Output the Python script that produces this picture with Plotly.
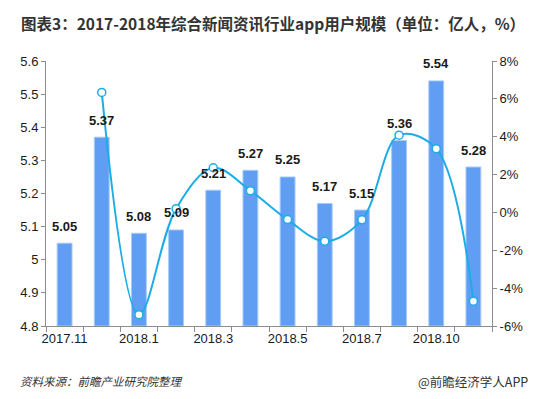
import plotly.graph_objects as go

# ---- data ----
users = [5.05, 5.37, 5.08, 5.09, 5.21, 5.27, 5.25, 5.17, 5.15, 5.36, 5.54, 5.28]   # 亿人
growth = [None, 6.34, -5.40, 0.20, 2.36, 1.15, -0.38, -1.52, -0.39, 4.08, 3.36, -4.69]  # %
tick_positions = [0, 2, 4, 6, 8, 10]
tick_labels = ["2017.11", "2018.1", "2018.3", "2018.5", "2018.7", "2018.10"]
left_ticks = [4.8, 4.9, 5.0, 5.1, 5.2, 5.3, 5.4, 5.5, 5.6]
right_ticks = [-6, -4, -2, 0, 2, 4, 6, 8]
right_labels = ["-6%", "-4%", "-2%", "0%", "2%", "4%", "6%", "8%"]

xs = list(range(len(users)))
BAR = "#5f9ef2"
LINE = "#1cade6"
AX = "#8c8c8c"
TXT = "#1a1a1a"
FONT = "Liberation Sans, Arial, sans-serif"
CJK = "Noto Sans CJK SC"

# page body adds an 8px offset; figure is sized to fill the rest of the window
OFF = 8
W, H = 537 - OFF, 399 - OFF
ML, MR, MT, MB = 37 - OFF, 45, 61 - OFF, 73
plot_w, plot_h = W - ML - MR, H - MT - MB


def paper_xy(px, py):
    """screen pixel -> paper coords"""
    return (px - OFF - ML) / plot_w, 1 - (py - OFF - MT) / plot_h


fig = go.Figure()
fig.add_trace(go.Bar(
    x=xs, y=[v - 4.8 for v in users], base=4.8, width=0.4,
    marker=dict(color=BAR, line=dict(color="#a9cbf8", width=1)),
    hoverinfo="skip", showlegend=False,
))
fig.add_trace(go.Scatter(
    x=xs, y=growth, yaxis="y2", mode="lines+markers",
    line=dict(color=LINE, width=2, shape="spline", smoothing=1.0),
    marker=dict(size=8, color="white", line=dict(color=LINE, width=1.5)),
    showlegend=False,
))

annotations = []
for x, v in zip(xs, users):
    annotations.append(dict(
        x=x, y=v, xref="x", yref="y", text=f"{v:.2f}", showarrow=False,
        yanchor="middle", yshift=17,
        font=dict(family=FONT, size=13, color=TXT, weight="bold"),
    ))
fx, fy = paper_xy(8, 381)
annotations.append(dict(x=fx, y=fy, xref="paper", yref="paper", xanchor="left", yanchor="middle",
                        text="<i>资料来源：前瞻产业研究院整理</i>", showarrow=False,
                        font=dict(family=CJK, size=11.5, color="#333333")))
fx, fy = paper_xy(531, 381)
annotations.append(dict(x=fx, y=fy, xref="paper", yref="paper", xanchor="right", yanchor="middle",
                        text="@前瞻经济学人APP", showarrow=False,
                        font=dict(family=CJK, size=12.5, color="#333333")))

fig.update_layout(
    width=W, height=H,
    margin=dict(l=ML, r=MR, t=MT, b=MB),
    paper_bgcolor="white", plot_bgcolor="white",
    title=dict(text="<b>图表3：2017-2018年综合新闻资讯行业app用户规模（单位：亿人，%）</b>",
               x=(21 - OFF) / W, xanchor="left", y=1 - (25 - OFF) / H, yanchor="middle",
               xref="container", yref="container",
               font=dict(family=CJK, size=15.5, color="#333333")),
    xaxis=dict(range=[-0.5, 11.5], tickvals=tick_positions, ticktext=tick_labels,
               ticks="", showgrid=False, zeroline=False,
               showline=True, linecolor=AX, linewidth=1,
               tickfont=dict(family=FONT, size=13, color=TXT),
               minor=dict(tickvals=[i - 0.5 for i in range(13)], ticks="outside", ticklen=5,
                          tickcolor=AX, showgrid=False)),
    yaxis=dict(range=[4.8, 5.6], tickvals=left_ticks, showgrid=False, zeroline=False,
               showline=True, linecolor=AX, linewidth=1, ticks="outside", ticklen=4, tickcolor=AX,
               tickfont=dict(family=FONT, size=13, color=TXT)),
    yaxis2=dict(range=[-6, 8], tickvals=right_ticks, ticktext=right_labels, overlaying="y", side="right",
                showgrid=False, zeroline=False, showline=True, linecolor=AX, linewidth=1,
                ticks="outside", ticklen=4, tickcolor=AX,
                tickfont=dict(family=FONT, size=13, color=TXT)),
    annotations=annotations,
)

fig.write_html("out.html")
